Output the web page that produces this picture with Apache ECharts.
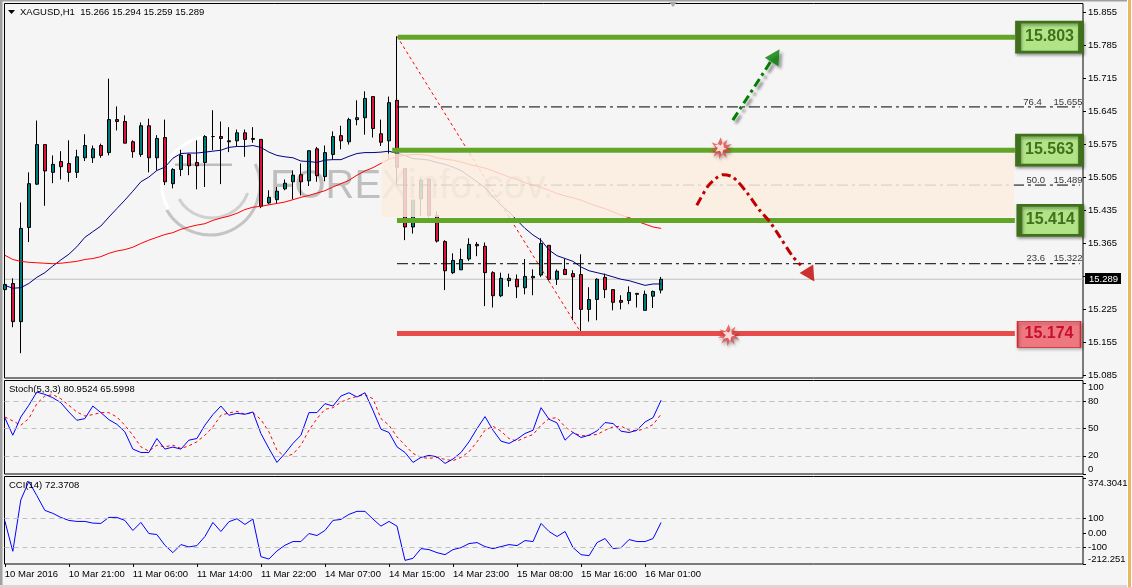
<!DOCTYPE html>
<html>
<head>
<meta charset="utf-8">
<title>XAGUSD H1</title>
<style>html,body{margin:0;padding:0;background:#f5f5f5;overflow:hidden}#chart{width:1132px;height:587px}</style>
<script src="https://cdn.jsdelivr.net/npm/echarts@6/dist/echarts.min.js"></script>
</head>
<body>
<div id="chart"></div>
<script>
// Hourly XAGUSD candles, one entry per bar
const opens = [15.267,15.280,15.199,15.399,15.491,15.575,15.516,15.539,15.535,15.516,15.547,15.547,15.573,15.558,15.628,15.624,15.581,15.554,15.615,15.547,15.590,15.492,15.522,15.554,15.537,15.537,15.592,15.592,15.583,15.583,15.600,15.588,15.586,15.451,15.458,15.481,15.496,15.511,15.498,15.566,15.507,15.554,15.594,15.581,15.628,15.632,15.677,15.598,15.583,15.669,15.524,15.400,15.460,15.501,15.424,15.369,15.303,15.309,15.332,15.363,15.359,15.303,15.254,15.286,15.289,15.271,15.295,15.298,15.361,15.289,15.310,15.301,15.299,15.225,15.246,15.293,15.267,15.244,15.244,15.259,15.223,15.253,15.266];
const highs = [15.300,15.291,15.452,15.516,15.626,15.575,15.552,15.561,15.584,15.564,15.597,15.573,15.577,15.715,15.656,15.637,15.584,15.622,15.630,15.595,15.628,15.525,15.564,15.556,15.584,15.595,15.648,15.624,15.612,15.607,15.607,15.612,15.586,15.478,15.485,15.501,15.520,15.535,15.562,15.570,15.573,15.603,15.615,15.632,15.669,15.688,15.677,15.628,15.677,15.805,15.524,15.457,15.503,15.504,15.433,15.372,15.344,15.354,15.376,15.368,15.367,15.306,15.303,15.301,15.299,15.332,15.310,15.376,15.361,15.310,15.332,15.308,15.342,15.272,15.291,15.301,15.267,15.255,15.274,15.259,15.265,15.265,15.294];
const lows = [15.255,15.187,15.132,15.368,15.489,15.445,15.493,15.501,15.496,15.504,15.540,15.536,15.547,15.552,15.605,15.578,15.547,15.549,15.516,15.520,15.489,15.482,15.508,15.510,15.480,15.485,15.563,15.491,15.559,15.571,15.549,15.579,15.440,15.448,15.450,15.478,15.459,15.467,15.487,15.496,15.497,15.543,15.565,15.575,15.616,15.596,15.590,15.572,15.545,15.489,15.372,15.386,15.424,15.421,15.367,15.266,15.300,15.309,15.328,15.338,15.232,15.229,15.251,15.273,15.249,15.257,15.255,15.294,15.286,15.277,15.299,15.202,15.175,15.199,15.202,15.249,15.223,15.225,15.236,15.229,15.223,15.228,15.259];
const closes = [15.278,15.199,15.397,15.492,15.575,15.519,15.533,15.528,15.516,15.549,15.573,15.566,15.552,15.628,15.624,15.578,15.560,15.615,15.547,15.588,15.496,15.522,15.552,15.530,15.530,15.592,15.592,15.588,15.581,15.600,15.586,15.586,15.444,15.463,15.476,15.493,15.510,15.496,15.562,15.509,15.558,15.592,15.583,15.628,15.632,15.673,15.609,15.580,15.664,15.527,15.400,15.457,15.499,15.425,15.370,15.307,15.329,15.331,15.363,15.360,15.303,15.254,15.291,15.291,15.273,15.295,15.292,15.365,15.289,15.306,15.299,15.294,15.225,15.246,15.289,15.267,15.240,15.240,15.261,15.257,15.257,15.263,15.289];

// Moving averages on the price panel
const maFast = [15.276,15.270,15.271,15.280,15.293,15.303,15.317,15.330,15.342,15.358,15.378,15.390,15.402,15.421,15.439,15.457,15.476,15.496,15.506,15.520,15.527,15.546,15.556,15.557,15.557,15.559,15.561,15.563,15.569,15.571,15.571,15.573,15.569,15.559,15.552,15.549,15.547,15.540,15.539,15.537,15.542,15.543,15.543,15.550,15.556,15.558,15.558,15.559,15.561,15.556,15.552,15.545,15.544,15.542,15.537,15.533,15.527,15.520,15.508,15.496,15.484,15.464,15.446,15.432,15.414,15.397,15.383,15.372,15.351,15.339,15.333,15.327,15.315,15.307,15.303,15.299,15.294,15.289,15.286,15.281,15.276,15.279,15.279];
const maSlow = [15.340,15.331,15.327,15.325,15.324,15.323,15.322,15.323,15.325,15.327,15.331,15.333,15.337,15.344,15.349,15.352,15.357,15.365,15.372,15.378,15.384,15.388,15.395,15.400,15.404,15.407,15.414,15.419,15.423,15.429,15.437,15.442,15.444,15.447,15.450,15.453,15.458,15.463,15.467,15.472,15.477,15.485,15.492,15.499,15.510,15.519,15.526,15.535,15.544,15.549,15.552,15.554,15.554,15.552,15.547,15.544,15.542,15.538,15.533,15.529,15.525,15.519,15.513,15.506,15.501,15.494,15.489,15.484,15.478,15.471,15.466,15.462,15.457,15.450,15.444,15.439,15.432,15.425,15.420,15.412,15.406,15.400,15.397];

// Stochastic oscillator (5,3,3)
const stochMain = [61.8,42.5,62.5,75.3,89.8,87.3,83.6,78.2,68,58.9,60.7,74.5,67.3,59.6,54.5,46.2,27.3,23.6,23.6,38.9,27.3,29.5,27.3,37.1,38.9,53.5,65.1,74.5,64.4,66.5,65.5,68,44.4,28,12.7,22.5,33.5,42.5,67.3,67.3,77.1,74.5,85.5,89.1,84.4,89.1,69.8,49.1,45.5,29.8,23.6,12.7,18.2,20.4,18.9,11.6,16.4,23.6,35.3,49.8,62.9,48,36,33.5,38.2,44.4,48,72.7,60,56,37.1,45.5,40,42.5,47.3,56.4,55.3,46.9,45.5,48,57.1,61.8,80.9524];
const stochSignal = [62.5,58.2,53.5,60.7,77.1,85.5,86.9,82.5,75.3,68,63.6,65.1,67.3,67.3,62.5,53.5,42.5,29.8,25.1,31.6,29.8,31.6,28,30.9,35.3,42.5,51.6,64.4,66.9,68.7,65.5,67.3,59.6,46.2,26.2,18.9,21.8,31.6,48,60.7,70.9,72.7,78.9,82.5,85.1,86.9,82.5,60.7,53.5,40.7,31.6,22.5,18.2,17.1,18.2,16,14.6,18.2,24.4,35.3,48,52.4,46.9,38.9,36,40,43.3,53.5,60.7,61.8,51.6,45.5,41.8,42.5,43.3,48,51.6,52.4,48,47.3,49.8,54.2,65.5998];

// Commodity channel index (14)
const cci = [83.9,-125.3,226.4,352.9,256.3,155.2,134.5,106.9,86.2,79.3,79.3,67.8,65.5,106.9,106.9,86.2,17.2,72.4,-3.5,-10.4,-83.9,-134.5,-79.3,-95.4,-86.2,-24.1,72.4,10.3,77,97.7,58.6,95.4,-162.1,-178.2,-123,-83.9,-58.6,-58.6,-3.5,-17.2,17.2,86.2,93.1,127.6,148.3,148.3,95.4,47.1,79.3,47.1,-187.4,-173.6,-106.9,-113.8,-134.5,-148.3,-113.8,-100,-72.4,-65.5,-93.1,-106.9,-93.1,-79.3,-86.2,-51.7,-58.6,65.5,10.3,-24.1,10.3,-100,-148.3,-155.2,-65.5,-37.9,-106.9,-100,-44.8,-58.6,-58.6,-37.9,72.37];

// Axis labels
const timeLabels = ['10 Mar 2016','10 Mar 21:00','11 Mar 06:00','11 Mar 14:00','11 Mar 22:00','14 Mar 07:00','14 Mar 15:00','14 Mar 23:00','15 Mar 08:00','15 Mar 16:00','16 Mar 01:00'];
const priceTicks = [15.085,15.155,15.225,15.295,15.365,15.435,15.505,15.575,15.645,15.715,15.785,15.855];
const stochTicks = [0,20,50,80,100];
const cciTicks = [-212.251,-100,0,100,374.3041];

// Trading levels
const resistanceLevels = [15.803,15.563,15.414];
const supportLevel = 15.174;
const fibLevels = [15.655,15.489,15.322];
const fibNames = ['76.4','50.0','23.6'];
const lastPrice = 15.289;

const FONT = '"Liberation Sans", Arial, sans-serif';
const BARS_PER_LABEL = 8;
const X_MIN = -0.0375, X_MAX = 134.7125;
const xTicks = timeLabels.map((_, i) => i * BARS_PER_LABEL);
const pairs = arr => arr.map((v, i) => [i, v]);
const candles = opens.map((o, i) => [i, o, closes[i], lows[i], highs[i]]);

const axisLabelBase = { color: '#000', fontFamily: FONT, fontSize: 9.5 };

function xAxis(gridIndex, withLabels) {
  return {
    type: 'value', gridIndex, min: X_MIN, max: X_MAX, splitLine: { show: false },
    axisLine: { show: false, onZero: false },
    axisTick: withLabels ? { show: true, length: 3, customValues: xTicks, lineStyle: { color: '#000' } } : { show: false },
    axisLabel: withLabels ? {
      ...axisLabelBase, show: true, margin: 5, align: 'left', customValues: xTicks,
      formatter: v => timeLabels[Math.round(v / BARS_PER_LABEL)]
    } : { show: false }
  };
}
function yAxis(gridIndex, min, max, ticks, fmt, extra) {
  return {
    type: 'value', gridIndex, position: 'right', min, max, scale: true, splitLine: { show: false },
    axisLine: { show: false, onZero: false },
    axisTick: { show: true, length: 3, customValues: ticks, lineStyle: { color: '#000' } },
    axisLabel: { ...axisLabelBase, margin: 5, customValues: ticks, formatter: fmt, ...extra }
  };
}
function levelLine(name, from, to, price, color, width, z, extra) {
  return {
    name, type: 'line', xAxisIndex: 0, yAxisIndex: 0, z, silent: true, showSymbol: false, symbol: 'none',
    data: [[from, price], [to, price]], lineStyle: { color, width, ...extra }, animation: false
  };
}
function levelBox(name, centre, price, fill, border, borderWidth, textColor, size, offset) {
  return {
    name, coord: [centre, price], symbol: 'rect', symbolSize: size, symbolOffset: [0, offset],
    itemStyle: { color: fill, borderColor: border, borderWidth, shadowColor: 'rgba(0,0,0,0.35)', shadowBlur: 3, shadowOffsetX: 1, shadowOffsetY: 2 },
    label: { show: true, position: 'inside', formatter: price.toFixed(3), color: textColor, fontFamily: FONT, fontWeight: 'bold', fontSize: 16, offset: [0, -1] }
  };
}

const BURST = 'path://M50 0L58 28L80 10L72 36L100 30L78 50L98 70L70 64L76 92L56 72L44 100L40 72L16 88L28 62L0 60L26 46L8 22L34 32Z';
const BURST_CORE = 'path://M30 20L50 30L70 5L75 45L100 55L70 65L60 100L42 72L5 80L25 50L0 30Z';
const bursts = [[89.46, 15.567], [90.46, 15.170]];

const dashDot = [11, 4, 3, 4];
const arrowDash = [9, 4, 3, 4];
const greenArrow = [[90.96, 15.627], [95.8, 15.754]];
const redArrow = [[86.46, 15.446], [87.83, 15.486], [88.84, 15.503], [89.71, 15.511], [90.96, 15.506], [92.67, 15.474], [94.34, 15.435], [95.59, 15.411], [96.84, 15.379], [98.46, 15.337], [99.46, 15.319]];
const arrowShadow = { shadowColor: 'rgba(0,0,0,0.45)', shadowBlur: 3, shadowOffsetX: 3, shadowOffsetY: 3 };

const series = [
  {
    name: 'XAGUSD', type: 'candlestick', xAxisIndex: 0, yAxisIndex: 0, z: 2, barWidth: 4,
    encode: { x: 0, y: [1, 2, 3, 4] }, data: candles,
    itemStyle: { color: '#007b7b', color0: '#dc143c', borderColor: '#000', borderColor0: '#000', borderColorDoji: '#000', borderWidth: 1 }
  },
  { name: 'MA fast', type: 'line', xAxisIndex: 0, yAxisIndex: 0, z: 3, showSymbol: false, data: pairs(maFast), lineStyle: { color: '#000080', width: 1 } },
  { name: 'MA slow', type: 'line', xAxisIndex: 0, yAxisIndex: 0, z: 3, showSymbol: false, data: pairs(maSlow), lineStyle: { color: '#ff0000', width: 1 } },
  levelLine('last price', X_MIN, X_MAX, lastPrice, '#c0c0c0', 1, 1),
  {
    name: 'fib trend', type: 'line', xAxisIndex: 0, yAxisIndex: 0, z: 4, showSymbol: false,
    data: [[49, 15.805], [72, 15.175]], lineStyle: { color: '#ff0000', width: 1, type: [3, 3] }
  },
  ...fibLevels.map((p, i) => levelLine('fib ' + fibNames[i], 49, 134.3, p, '#000', 1, 4, { type: dashDot })),
  {
    name: 'fib labels', type: 'scatter', xAxisIndex: 0, yAxisIndex: 0, z: 6, symbolSize: 0, silent: true,
    data: fibLevels.flatMap((p, i) => [
      { value: [i === 0 ? 128.4 : 128.8, p], label: { formatter: fibNames[i] } },
      { value: [132.85, p], label: { formatter: p.toFixed(3) } }
    ]),
    label: { show: true, position: 'top', distance: 0, color: '#000', fontFamily: FONT, fontSize: 9.5 }
  },
  {
    name: 'zone', type: 'line', xAxisIndex: 0, yAxisIndex: 0, z: 5, data: [], silent: true,
    markArea: {
      silent: true, z: 5, itemStyle: { color: '#fcecde', opacity: 0.85 },
      data: [[{ coord: [47.1, 15.556] }, { coord: [126.1, 15.421] }]]
    }
  },
  levelLine('R1', 49.1, 126.2, resistanceLevels[0], '#63a526', 5, 7),
  levelLine('R2', 48.4, 126.2, resistanceLevels[1], '#63a526', 5, 7),
  levelLine('R3', 49.0, 126.2, resistanceLevels[2], '#63a526', 5, 7),
  levelLine('S1', 49.0, 126.2, supportLevel, '#e84c4a', 5, 7),
  {
    name: 'level boxes', type: 'line', xAxisIndex: 0, yAxisIndex: 0, z: 8, data: [], silent: true,
    markPoint: {
      silent: true, animation: false, z: 8,
      data: [
        levelBox('a', 130.53, resistanceLevels[0], '#b0e487', '#41701c', 4, '#41701c', [63, 30], 0),
        levelBox('b', 130.53, resistanceLevels[1], '#b0e487', '#41701c', 4, '#41701c', [63, 30], 0),
        levelBox('c', 130.63, resistanceLevels[2], '#b0e487', '#41701c', 4, '#41701c', [62, 30], 0),
        levelBox('d', 130.47, supportLevel, '#ee7880', '#d6252f', 1, '#c8102e', [63, 26], 1)
      ]
    }
  },
  {
    name: 'up arrow', type: 'line', xAxisIndex: 0, yAxisIndex: 0, z: 9, showSymbol: false, data: greenArrow,
    lineStyle: { color: '#008000', width: 3, type: arrowDash, ...arrowShadow }
  },
  {
    name: 'down arrow', type: 'line', xAxisIndex: 0, yAxisIndex: 0, z: 9, showSymbol: false, smooth: 0.3, data: redArrow,
    lineStyle: { color: '#c00000', width: 3, type: arrowDash }
  },
  {
    name: 'arrow heads', type: 'scatter', xAxisIndex: 0, yAxisIndex: 0, z: 9, silent: true, symbol: 'triangle', symbolSize: [16, 15],
    data: [
      { value: [96.3, 15.764], symbolRotate: -32, itemStyle: { color: '#008000', ...arrowShadow } },
      { value: [100.65, 15.298], symbolRotate: -148, itemStyle: { color: '#c00000' } }
    ]
  },
  {
    name: 'bursts', type: 'scatter', xAxisIndex: 0, yAxisIndex: 0, z: 10, silent: true, symbol: BURST, symbolSize: 22,
    data: bursts, itemStyle: { color: '#e84c4c', shadowColor: 'rgba(0,0,0,0.4)', shadowBlur: 3, shadowOffsetX: 1, shadowOffsetY: 2 }
  },
  {
    name: 'burst cores', type: 'scatter', xAxisIndex: 0, yAxisIndex: 0, z: 11, silent: true, symbol: BURST_CORE, symbolSize: 12,
    data: bursts, itemStyle: { color: '#ffffff' }
  },
  {
    name: 'Stoch main', type: 'line', xAxisIndex: 1, yAxisIndex: 1, z: 3, showSymbol: false, data: pairs(stochMain), lineStyle: { color: '#0000ff', width: 1 },
    markLine: { silent: true, symbol: 'none', animation: false, label: { show: false }, lineStyle: { color: '#c0c0c0', type: [5, 4], width: 1 }, data: [{ yAxis: 80 }, { yAxis: 50 }, { yAxis: 20 }] }
  },
  { name: 'Stoch signal', type: 'line', xAxisIndex: 1, yAxisIndex: 1, z: 2, showSymbol: false, data: pairs(stochSignal), lineStyle: { color: '#ff0000', width: 1, type: [3, 3] } },
  {
    name: 'CCI', type: 'line', xAxisIndex: 2, yAxisIndex: 2, z: 3, showSymbol: false, data: pairs(cci), lineStyle: { color: '#0000ff', width: 1 },
    markLine: { silent: true, symbol: 'none', animation: false, label: { show: false }, lineStyle: { color: '#c0c0c0', type: [5, 4], width: 1 }, data: [{ yAxis: 100 }, { yAxis: -100 }] }
  }
];

const frame = { show: true, left: 4.5, width: 1078.5, borderColor: '#000', borderWidth: 1, backgroundColor: '#f5f5f5' };

const chart = echarts.init(document.getElementById('chart'), null, { renderer: 'canvas' });
const caption = (x, y, text) => ({ type: 'text', left: x, top: y, z: 20, style: { text, fontFamily: FONT, fontSize: 9.5, fill: '#000' } });
const ring = (cx, cy, r, a0, a1, color, w) => ({
  type: 'arc', z: 1, shape: { cx, cy, r, startAngle: a0 * Math.PI / 180, endAngle: a1 * Math.PI / 180, clockwise: true },
  style: { fill: null, stroke: color, lineWidth: w }
});

chart.setOption({
  animation: false,
  backgroundColor: '#f5f5f5',
  grid: [
    { ...frame, top: 3.5, height: 374.5 },
    { ...frame, top: 380.5, height: 93.5 },
    { ...frame, top: 476.5, height: 87.5 }
  ],
  xAxis: [xAxis(0, false), xAxis(1, false), xAxis(2, true)],
  yAxis: [
    yAxis(0, 15.0793, 15.8746, priceTicks, v => v.toFixed(3)),
    yAxis(1, 0, 102.5, stochTicks, v => String(v), { verticalAlignMaxLabel: 'top', verticalAlignMinLabel: 'bottom' }),
    yAxis(2, -212.251, 387, cciTicks, v => (v === 0 ? '0.00' : String(v)), { verticalAlignMaxLabel: 'top', verticalAlignMinLabel: 'bottom' })
  ],
  series
});

// Chrome around the panels, the watermark and the last-price tag
const lastY = chart.convertToPixel({ yAxisIndex: 0 }, lastPrice);
chart.setOption({
  graphic: [
    { type: 'rect', z: 0, shape: { x: 0, y: 0, width: 2.5, height: 587 }, style: { fill: '#a0a0a0' } },
    { type: 'rect', z: 0, shape: { x: 0, y: 0, width: 1132, height: 1.5 }, style: { fill: '#a0a0a0' } },
    { type: 'rect', z: 0, shape: { x: 0, y: 585, width: 1132, height: 2 }, style: { fill: '#d8d8d8' } },
    { type: 'rect', z: 0, shape: { x: 1127, y: 0, width: 5, height: 587 }, style: { fill: '#ffffff' } },
    { type: 'rect', z: 0, shape: { x: 1128, y: 0, width: 3, height: 587 }, style: { fill: '#e8b860' } },
    { type: 'polygon', z: 20, shape: { points: [[669, 2], [677, 2], [673, 7]] }, style: { fill: '#a8a8a8' } },
    ring(210, 185, 50, -25, 150, '#c4c4c4', 3),
    ring(210, 185, 48, 150, 290, '#ffffff', 3),
    ring(212, 180, 38, 20, 150, '#d0d0d0', 3),
    { type: 'rect', z: 1, shape: { x: 175, y: 163.5, width: 57, height: 2.5 }, style: { fill: '#bdbdbd' } },
    { type: 'text', z: 1, left: 270, top: 167, style: { text: 'FOREXinfo.cov.', fontFamily: FONT, fontSize: 40, fill: 'rgba(110,110,110,0.4)' } },
    { type: 'polygon', z: 20, shape: { points: [[8, 10], [15, 10], [11.5, 14]] }, style: { fill: '#000' } },
    caption(20, 7, 'XAGUSD,H1  15.266 15.294 15.259 15.289'),
    caption(9, 384, 'Stoch(5,3,3) 80.9524 65.5998'),
    caption(9, 480, 'CCI(14) 72.3708'),
    { type: 'rect', z: 20, shape: { x: 1085, y: Math.round(lastY) - 6, width: 36, height: 11 }, style: { fill: '#000' } },
    { type: 'text', z: 21, left: 1089, top: Math.round(lastY) - 5, style: { text: lastPrice.toFixed(3), fontFamily: FONT, fontSize: 9.5, fill: '#fff' } }
  ]
});
</script>
</body>
</html>
